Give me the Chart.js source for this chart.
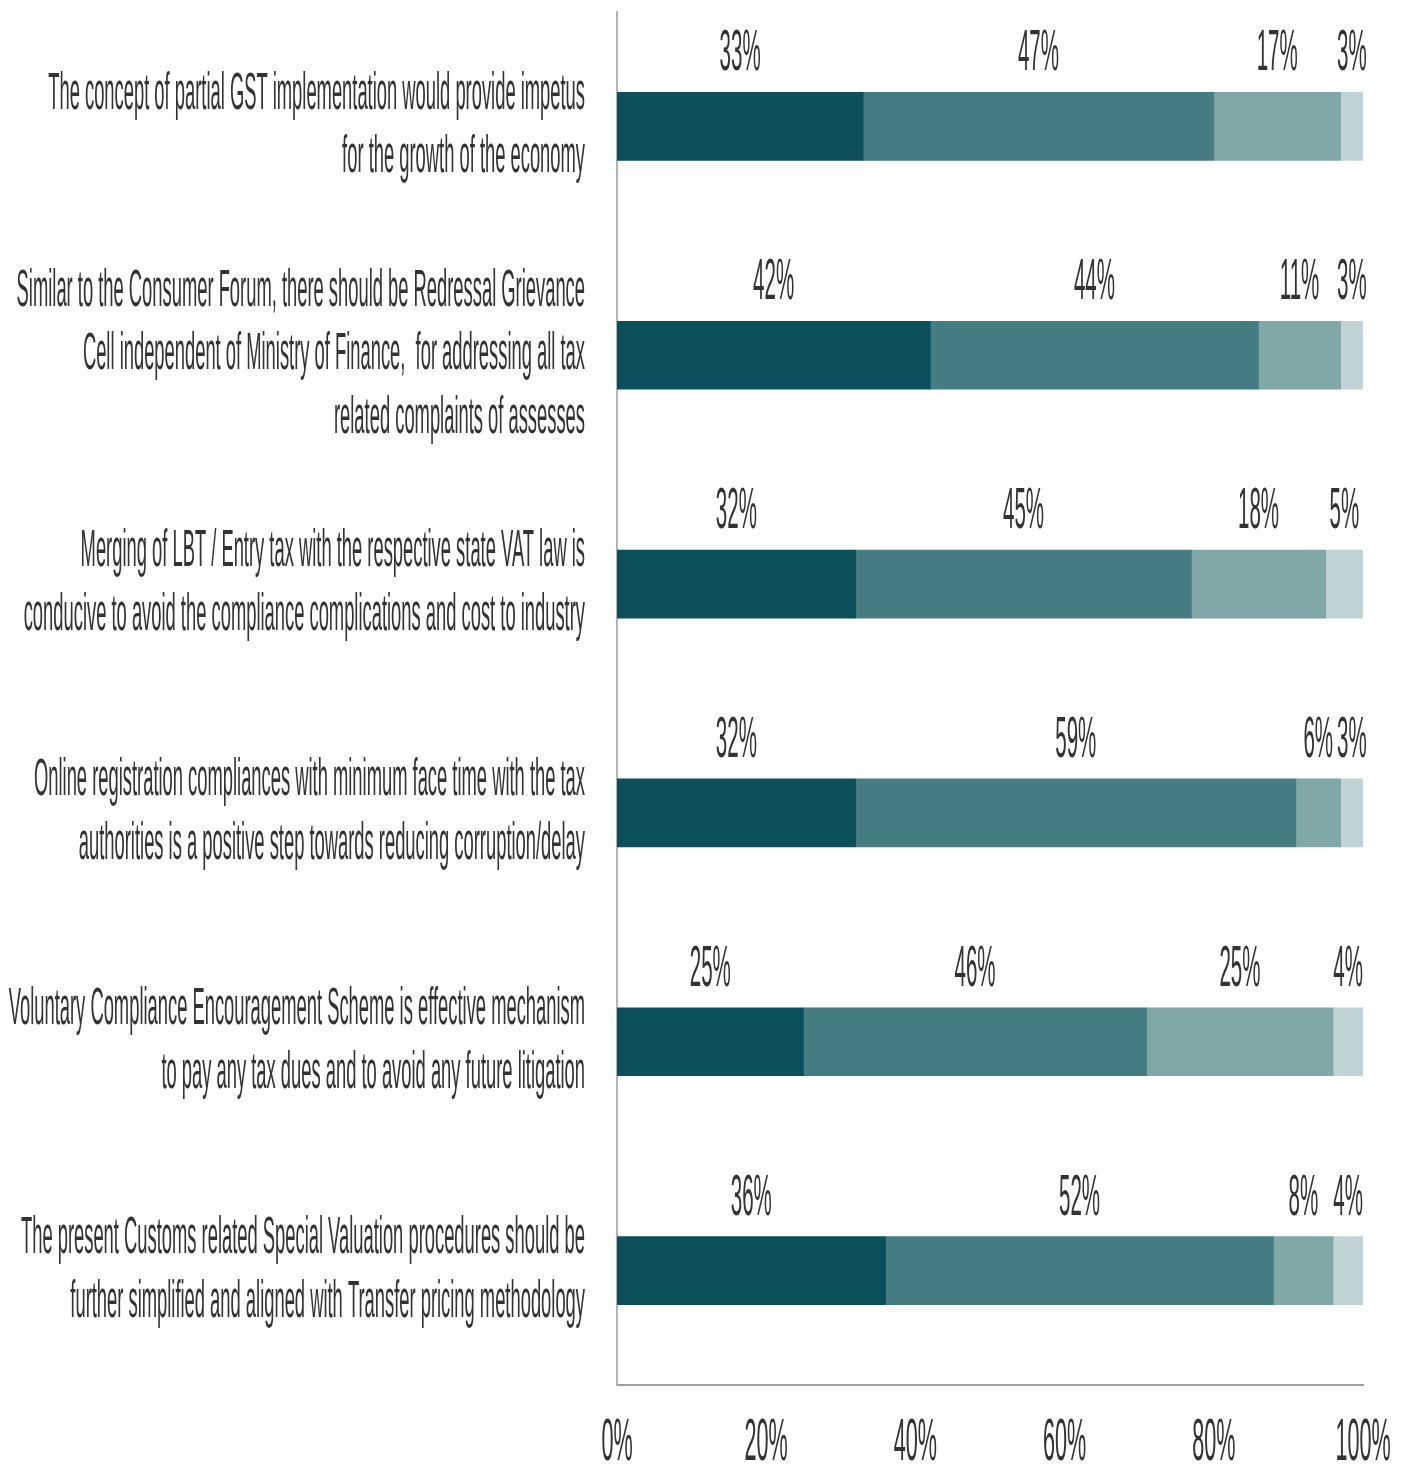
<!DOCTYPE html>
<html>
<head>
<meta charset="utf-8">
<script src="https://cdn.jsdelivr.net/npm/chart.js@4/dist/chart.umd.min.js"></script>
<style>
  html, body { margin: 0; padding: 0; background: #ffffff; }
  #wrap { width: 1407px; height: 1470px; }
</style>
</head>
<body>
<div id="wrap"><canvas id="c" width="1407" height="1470"></canvas></div>
<script>
// ---------- data ----------
const categories = [
  ["The concept of partial GST implementation would provide impetus", "for the growth of the economy"],
  ["Similar to the Consumer Forum, there should be Redressal Grievance", "Cell independent of Ministry of Finance,  for addressing all tax", "related complaints of assesses"],
  ["Merging of LBT / Entry tax with the respective state VAT law is", "conducive to avoid the compliance complications and cost to industry"],
  ["Online registration compliances with minimum face time with the tax", "authorities is a positive step towards reducing corruption/delay"],
  ["Voluntary Compliance Encouragement Scheme is effective mechanism", "to pay any tax dues and to avoid any future litigation"],
  ["The present Customs related Special Valuation procedures should be", "further simplified and aligned with Transfer pricing methodology"]
];
const seriesNames = ["Strongly agree", "Agree", "Neutral", "Disagree"];
const stronglyAgree = [33, 42, 32, 32, 25, 36];
const agree         = [47, 44, 45, 59, 46, 52];
const neutral       = [17, 11, 18, 6, 25, 8];
const disagree      = [3, 3, 5, 3, 4, 4];
const xTicks = [0, 20, 40, 60, 80, 100];

const colors = ["#0b4f5b", "#457d83", "#80a8a9", "#c0d4d6"];

// ---------- condensed text emulation ----------
const canvas = document.getElementById('c');
const ctx = canvas.getContext('2d');
const SX = 0.36;
const origFill = ctx.fillText.bind(ctx);
const origMeasure = ctx.measureText.bind(ctx);
ctx.fillText = function (t, x, y, mw) {
  this.save();
  this.translate(x, y);
  this.scale(SX, 1);
  if (mw !== undefined && mw !== null) origFill(t, 0, 0, mw / SX);
  else origFill(t, 0, 0);
  this.restore();
};
ctx.measureText = function (t) {
  const m = origMeasure(t);
  return {
    width: m.width * SX,
    actualBoundingBoxAscent: m.actualBoundingBoxAscent,
    actualBoundingBoxDescent: m.actualBoundingBoxDescent,
    actualBoundingBoxLeft: m.actualBoundingBoxLeft * SX,
    actualBoundingBoxRight: m.actualBoundingBoxRight * SX,
    fontBoundingBoxAscent: m.fontBoundingBoxAscent,
    fontBoundingBoxDescent: m.fontBoundingBoxDescent
  };
};

// ---------- value labels above segments ----------
const valueLabels = {
  id: 'valueLabels',
  afterDatasetsDraw(chart) {
    const c = chart.ctx;
    c.save();
    c.font = '57px "Liberation Sans", Arial, sans-serif';
    c.fillStyle = '#333333';
    c.textAlign = 'center';
    c.textBaseline = 'alphabetic';
    chart.data.datasets.forEach((ds, di) => {
      const meta = chart.getDatasetMeta(di);
      meta.data.forEach((bar, i) => {
        const p = bar.getProps(['x', 'y', 'base', 'height'], true);
        const cx = (p.x + p.base) / 2;
        c.fillText(ds.data[i] + '%', cx, p.y - p.height / 2 - 22);
      });
    });
    c.restore();
  }
};

const seriesValues = [stronglyAgree, agree, neutral, disagree];

new Chart(ctx, {
  type: 'bar',
  data: {
    labels: categories,
    datasets: seriesValues.map((vals, i) => ({
      label: seriesNames[i],
      data: vals,
      backgroundColor: colors[i],
      borderWidth: 0,
      barThickness: 68
    }))
  },
  options: {
    indexAxis: 'y',
    responsive: false,
    devicePixelRatio: 1,
    animation: false,
    layout: { padding: { top: 12, right: 44, left: 0, bottom: 0 } },
    plugins: {
      legend: { display: false },
      tooltip: { enabled: false },
      title: { display: false }
    },
    scales: {
      x: {
        stacked: true,
        min: 0,
        max: 100,
        afterBuildTicks(scale) {
          scale.ticks = xTicks.map(v => ({ value: v }));
        },
        afterFit(scale) {
          scale.height = 85;
          scale.paddingLeft = 0;
          scale.paddingRight = 0;
        },
        grid: { display: false, drawTicks: false },
        border: { display: true, color: '#9c9c9c', width: 2 },
        ticks: {
          autoSkip: false,
          maxRotation: 0,
          padding: 31,
          color: '#333333',
          font: { family: '"Liberation Sans", Arial, sans-serif', size: 60, lineHeight: 0.9 },
          callback: (v) => v + '%'
        }
      },
      y: {
        stacked: true,
        afterFit(scale) {
          scale.width = 617;
          scale.paddingTop = 0;
          scale.paddingBottom = 0;
        },
        grid: { display: false, drawTicks: false },
        border: { display: true, color: '#b4b4b4', width: 2 },
        ticks: {
          autoSkip: false,
          padding: 32,
          crossAlign: 'near',
          color: '#333333',
          font: { family: '"Liberation Sans", Arial, sans-serif', size: 51, lineHeight: 1.25 }
        }
      }
    }
  },
  plugins: [valueLabels]
});
</script>
</body>
</html>
